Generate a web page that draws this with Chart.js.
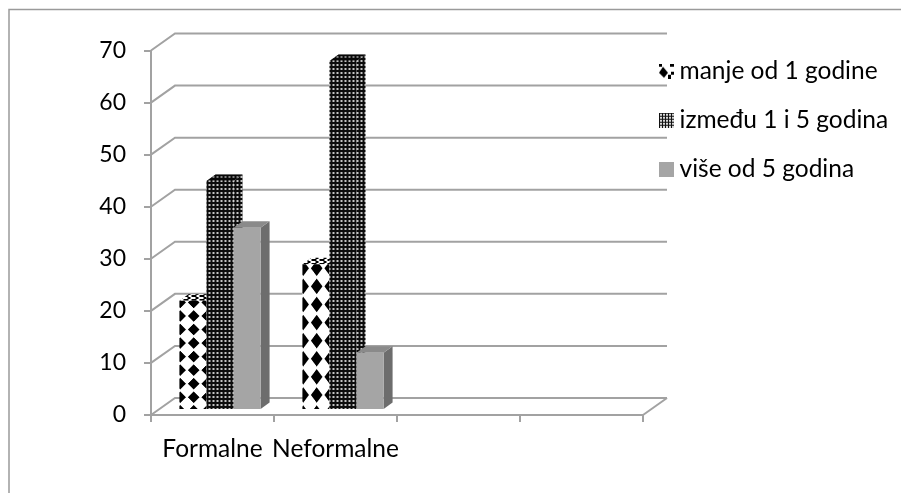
<!DOCTYPE html>
<html><head><meta charset="utf-8">
<style>html,body{margin:0;padding:0;background:#fff}canvas{display:block}</style>
<script src="https://cdn.jsdelivr.net/npm/chart.js@4"></script>
</head><body><canvas id="c" width="901" height="493"></canvas>
<script>
const categories = ['Formalne', 'Neformalne', '', ''];
const seriesNames = ['manje od 1 godine', 'između 1 i 5 godina', 'više od 5 godina'];
const lessThanOne = [21, 28];
const oneToFive = [44, 67];
const moreThanFive = [35, 11];
const yTicks = [0, 10, 20, 30, 40, 50, 60, 70];

const FONT = 'Lato';
const FS = 24.5;
const TICK_FS = 23;
const GRID = '#a2a2a2';
const DEPTH = {x: 24, y: -17};
const BAR_SHIFT = {x: 7.5, y: -5};
const BAR3D = {x: 9, y: -6.5};

function tile(w, h, draw) {
  const c = document.createElement('canvas');
  c.width = w; c.height = h;
  draw(c.getContext('2d'), w, h);
  return c;
}
const diamondTile = tile(28, 28, (g, w, h) => {
  g.fillStyle = '#fff'; g.fillRect(0, 0, w, h);
  g.fillStyle = '#000';
  g.beginPath(); g.moveTo(14, 2); g.lineTo(26, 14); g.lineTo(14, 26); g.lineTo(2, 14); g.closePath(); g.fill();
});
const dotTile = tile(4, 4, (g, w, h) => {
  g.fillStyle = '#0c0c0c'; g.fillRect(0, 0, w, h);
  g.fillStyle = '#c4c4c4'; g.fillRect(1, 1, 2, 2);
});
const stripeTile = tile(8, 4, (g) => {
  g.fillStyle = '#fff'; g.fillRect(0, 0, 8, 4);
  g.fillStyle = '#000'; g.fillRect(0, 0, 5, 2); g.fillRect(4, 2, 3, 2);
});
const mainCtx = document.getElementById('c').getContext('2d');
const diamondPatterns = lessThanOne.map(() => mainCtx.createPattern(diamondTile, 'repeat'));
const dotPattern = mainCtx.createPattern(dotTile, 'repeat');
const stripePattern = mainCtx.createPattern(stripeTile, 'repeat');

const icons = [
  tile(15, 15, (g) => {
    g.fillStyle = '#fff'; g.fillRect(0, 0, 15, 15);
    g.fillStyle = '#000';
    g.beginPath(); g.moveTo(4, 3); g.lineTo(9, 9); g.lineTo(5, 14); g.lineTo(0, 9); g.closePath(); g.fill();
    g.fillRect(0, 0, 3, 3); g.fillRect(11, 0, 4, 3); g.fillRect(12, 8, 3, 3); g.fillRect(9, 11, 3, 4);
  }),
  tile(15, 15, (g) => {
    g.fillStyle = '#111'; g.fillRect(0, 0, 15, 15);
    g.fillStyle = '#d8d8d8';
    for (let x = 1; x < 15; x += 3) for (let y = 1; y < 15; y += 3) g.fillRect(x, y, 2, 2);
  }),
  tile(15, 15, (g) => { g.fillStyle = '#a5a5a5'; g.fillRect(0, 0, 15, 15); })
];

const depthPlugin = {
  id: 'depth',
  beforeDraw(chart) {
    const g = chart.ctx;
    g.save();
    g.strokeStyle = '#9a9a9a'; g.lineWidth = 1.5;
    g.beginPath(); g.moveTo(9, 493); g.lineTo(9, 9.5); g.lineTo(901, 9.5); g.stroke();
    const y = chart.scales.y, a = chart.chartArea;
    g.strokeStyle = GRID; g.lineWidth = 2;
    yTicks.forEach(v => {
      const p = y.getPixelForValue(v);
      g.beginPath();
      g.moveTo(a.left, p); g.lineTo(a.left + DEPTH.x, p + DEPTH.y); g.lineTo(a.right + DEPTH.x, p + DEPTH.y);
      g.stroke();
    });
    const b = y.getPixelForValue(0);
    g.beginPath(); g.moveTo(a.right, b); g.lineTo(a.right + DEPTH.x, b + DEPTH.y); g.stroke();
    g.restore();
  },
  beforeDatasetsDraw(chart) {
    const g = chart.ctx;
    diamondPatterns.forEach((pat, j) => {
      const el = chart.getDatasetMeta(0).data[j];
      const left = el.x - el.width / 2 + BAR_SHIFT.x, top = el.y + BAR_SHIFT.y;
      pat.setTransform(new DOMMatrix().translate(left, top).scale(el.width / 2 / 28, (el.base - el.y) / 8 / 28));
    });
    g.save();
    g.translate(BAR_SHIFT.x, BAR_SHIFT.y);
    chart.data.datasets.forEach((ds, i) => {
      const meta = chart.getDatasetMeta(i);
      meta.data.forEach(el => {
        const l = el.x - el.width / 2, r = el.x + el.width / 2;
        const t = el.y, b = el.base;
        // right face
        g.beginPath();
        g.moveTo(r, t); g.lineTo(r + BAR3D.x, t + BAR3D.y); g.lineTo(r + BAR3D.x, b + BAR3D.y); g.lineTo(r, b); g.closePath();
        g.fillStyle = ds.sideColor === 'pattern' ? dotPattern : ds.sideColor;
        g.fill();
        // top face
        g.beginPath();
        g.moveTo(l, t); g.lineTo(l + BAR3D.x, t + BAR3D.y); g.lineTo(r + BAR3D.x, t + BAR3D.y); g.lineTo(r, t); g.closePath();
        g.fillStyle = ds.topColor === 'pattern' ? dotPattern : ds.topColor === 'stripes' ? stripePattern : ds.topColor;
        g.fill();
        if (ds.topColor === 'pattern') { g.fillStyle = 'rgba(0,0,0,.35)'; g.fill(); }
      });
      meta.controller.draw();
    });
    g.restore();
    return false;
  },
  afterLayout(chart) {
    const l = chart.legend;
    l.left = 641.25; l.right = 901; l.top = 34.5; l.bottom = 260;
  }
};

new Chart(mainCtx, {
  type: 'bar',
  plugins: [depthPlugin],
  data: {
    labels: categories,
    datasets: [
      {label: seriesNames[0], data: lessThanOne, backgroundColor: diamondPatterns, sideColor: '#fff', topColor: 'stripes'},
      {label: seriesNames[1], data: oneToFive, backgroundColor: dotPattern, sideColor: 'pattern', topColor: 'pattern'},
      {label: seriesNames[2], data: moreThanFive, backgroundColor: '#a5a5a5', sideColor: '#6d6d6d', topColor: '#8a8a8a'}
    ]
  },
  options: {
    responsive: false,
    animation: false,
    events: [],
    devicePixelRatio: 1,
    layout: {padding: {left: 0, top: 50.5, right: 258, bottom: 0}},
    datasets: {bar: {categoryPercentage: 0.66, barPercentage: 1, borderWidth: 0}},
    plugins: {
      tooltip: {enabled: false},
      legend: {
        position: 'chartArea',
        align: 'start',
        labels: {
          font: {family: FONT, size: FS},
          color: '#000',
          usePointStyle: true,
          pointStyleWidth: 1.5,
          boxHeight: 15,
          padding: 24.5,
          generateLabels(chart) {
            return Chart.defaults.plugins.legend.labels.generateLabels(chart)
              .map((it, i) => Object.assign(it, {pointStyle: icons[i]}));
          }
        }
      }
    },
    scales: {
      x: {
        offset: true,
        afterFit(s) { s.height = 78; },
        grid: {drawOnChartArea: false, color: GRID, lineWidth: 2, tickLength: 7, offset: true},
        border: {color: GRID, width: 2},
        ticks: {font: {family: FONT, size: FS}, color: '#000', padding: 12, maxRotation: 0, autoSkip: false}
      },
      y: {
        min: 0, max: 70,
        afterFit(s) { s.width = 151; },
        afterBuildTicks(s) { s.ticks = yTicks.map(v => ({value: v})); },
        grid: {drawOnChartArea: false, color: GRID, lineWidth: 2, tickLength: 7},
        border: {color: GRID, width: 2},
        ticks: {font: {family: FONT, size: TICK_FS}, color: '#000', padding: 18}
      }
    }
  }
});
</script></body></html>
